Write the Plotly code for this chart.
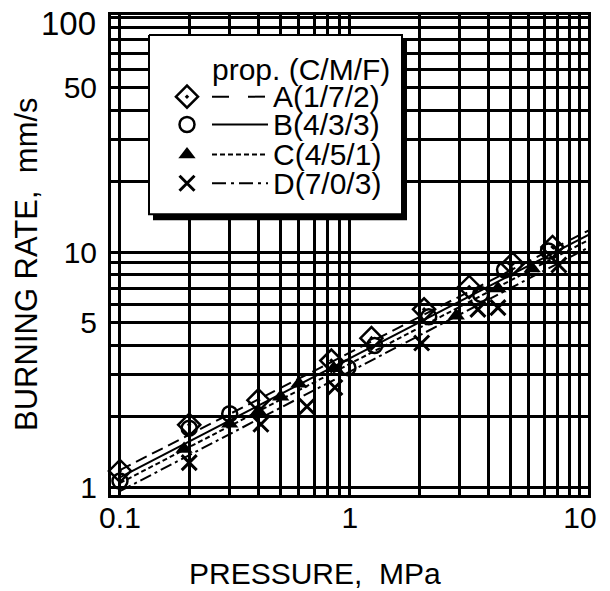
import plotly.graph_objects as go

# Measured burning rates (mm/s) vs. pressure (MPa) for four propellants
A_p = [0.1, 0.2, 0.4, 0.83, 1.24, 2.1, 3.3, 5.1, 7.6]
A_r = [1.17, 1.84, 2.34, 3.45, 4.3, 5.7, 7.1, 8.9, 10.5]
B_p = [0.1, 0.2, 0.3, 0.98, 1.28, 2.2, 3.7, 4.7, 7.3]
B_r = [1.06, 1.78, 2.05, 3.22, 4.0, 5.3, 6.6, 8.4, 10.1]
C_p = [0.19, 0.3, 0.4, 0.5, 0.6, 0.85, 2.9, 4.4, 6.2]
C_r = [1.45, 1.86, 2.1, 2.42, 2.75, 3.2, 5.35, 7.0, 8.5]
D_p = [0.2, 0.41, 0.65, 0.86, 2.05, 3.6, 4.4, 8.1]
D_r = [1.27, 1.85, 2.2, 2.65, 4.1, 5.7, 5.8, 8.8]

# Straight-line (power law) fits, given at their end pressures
fit_p = [0.1, 11]
A_fit = [1.18, 12.4]
B_fit = [1.10, 11.9]
C_fit = [1.04, 11.3]
D_fit = [0.96, 10.5]

names = ["A(1/7/2)", "B(4/3/3)", "C(4/5/1)", "D(7/0/3)"]
legend_title = "prop. (C/M/F)"

x_ticks = [0.1, 0.2, 0.3, 0.4, 0.5, 0.6, 0.7, 0.8, 0.9,
           1, 2, 3, 4, 5, 6, 7, 8, 9, 10]
x_labels = {0.1: "0.1", 1: "1", 10: "10"}
y_ticks = [1, 2, 3, 4, 5, 6, 7, 8, 9,
           10, 20, 30, 40, 50, 60, 70, 80, 90, 100]
y_labels = {1: "1", 5: "5", 10: "10", 50: "50"}

W, H = 610, 591
L, R, T, B = 111, 588, 13, 495
FONT = "Liberation Sans, Arial, Helvetica, sans-serif"


def fx(x):
    return (x - L) / (R - L)


def fy(y):
    return (B - y) / (B - T)


def rect(x0, y0, x1, y1):
    return ([fx(x0), fx(x1), fx(x1), fx(x0), fx(x0)],
            [fy(y0), fy(y0), fy(y1), fy(y1), fy(y0)])


styles = [
    dict(symbol="diamond-open-dot", size=17, line=dict(width=2.5, color="black"),
         color="black", dash="12px,6px", leg_dash="17px,19px"),
    dict(symbol="circle-open", size=15, line=dict(width=2.5, color="black"),
         color="black", dash="solid", leg_dash="solid"),
    dict(symbol="triangle-up", size=15, line=dict(width=0, color="black"),
         color="black", dash="5px,3px", leg_dash="5px,3px"),
    dict(symbol="x-thin-open", size=15, line=dict(width=3, color="black"),
         color="black", dash="12px,4px,3px,4px", leg_dash="14px,5px,3px,5px"),
]

data = [(A_p, A_r, A_fit), (B_p, B_r, B_fit), (C_p, C_r, C_fit), (D_p, D_r, D_fit)]

fig = go.Figure()

for (p, r, fit), st in zip(data, styles):
    fig.add_trace(go.Scatter(
        x=fit_p, y=fit, mode="lines",
        line=dict(color="black", width=2, dash=st["dash"]),
        showlegend=False, hoverinfo="skip"))
for (p, r, fit), st in zip(data, styles):
    fig.add_trace(go.Scatter(
        x=p, y=r, mode="markers",
        marker=dict(symbol=st["symbol"], size=st["size"], color=st["color"],
                    line=st["line"]),
        showlegend=False, cliponaxis=False))

# Legend panel, drawn on an overlay axis pair spanning the plot area
# (0..1 in both directions) so it covers the grid.
sx, sy = rect(153, 38, 407, 219)
fig.add_trace(go.Scatter(x=sx, y=sy, xaxis="x2", yaxis="y2", mode="lines",
                         fill="toself", fillcolor="black",
                         line=dict(width=0, color="black"),
                         showlegend=False, hoverinfo="skip"))
bx, by = rect(149, 33, 402, 213)
fig.add_trace(go.Scatter(x=bx, y=by, xaxis="x2", yaxis="y2", mode="lines",
                         fill="toself", fillcolor="white",
                         line=dict(width=2, color="black"),
                         showlegend=False, hoverinfo="skip"))

rows = [95, 123, 153, 182]
annotations = [
    dict(text=legend_title, xref="paper", yref="paper", x=fx(210), y=fy(68),
         xanchor="left", yanchor="middle", showarrow=False,
         font=dict(size=30, family=FONT, color="black")),
]
for name, st, ry in zip(names, styles, rows):
    fig.add_trace(go.Scatter(
        x=[fx(212), fx(268)], y=[fy(ry), fy(ry)], xaxis="x2", yaxis="y2",
        mode="lines", line=dict(width=2, color="black", dash=st["leg_dash"]),
        showlegend=False, hoverinfo="skip"))
    fig.add_trace(go.Scatter(
        x=[fx(187)], y=[fy(ry)], xaxis="x2", yaxis="y2", mode="markers",
        marker=dict(symbol=st["symbol"], size=st["size"], color=st["color"],
                    line=st["line"]),
        showlegend=False, hoverinfo="skip"))
    annotations.append(dict(text=name, xref="paper", yref="paper",
                            x=fx(271), y=fy(ry), xanchor="left", yanchor="middle",
                            showarrow=False,
                            font=dict(size=30, family=FONT, color="black")))

# Axis titles and the top y label
annotations += [
    dict(text="PRESSURE, \u00a0MPa", xref="paper", yref="paper",
         x=fx(315), y=fy(574), xanchor="center", yanchor="middle",
         showarrow=False, font=dict(size=30, family=FONT, color="black")),
    dict(text="BURNING RATE, \u00a0mm/s", xref="paper", yref="paper",
         x=fx(27), y=fy(263), xanchor="center", yanchor="middle",
         textangle=-90, showarrow=False,
         font=dict(size=31, family=FONT, color="black")),
    dict(text="100", xref="paper", yref="paper",
         x=fx(98), y=fy(22), xanchor="right", yanchor="middle",
         showarrow=False, font=dict(size=33, family=FONT, color="black")),
]

axis_common = dict(
    type="log", showgrid=True, gridcolor="black", gridwidth=2.5,
    showline=True, linecolor="black", linewidth=3, mirror=True,
    ticks="", zeroline=False,
    tickfont=dict(size=30, family=FONT, color="black"),
)

fig.update_layout(
    width=W, height=H,
    margin=dict(l=L, r=W - R, t=T, b=H - B),
    paper_bgcolor="white", plot_bgcolor="white",
    showlegend=False,
    xaxis=dict(range=[-1.039, 1.035], tickvals=x_ticks,
               ticktext=[x_labels.get(v, "") for v in x_ticks],
               ticklabelstandoff=-6, **axis_common),
    yaxis=dict(range=[-0.034, 2.0085], tickvals=y_ticks,
               ticktext=[y_labels.get(v, "") for v in y_ticks],
               ticklabelstandoff=5, **axis_common),
    xaxis2=dict(domain=[0, 1], range=[0, 1], overlaying="x", visible=False,
                showgrid=False),
    yaxis2=dict(domain=[0, 1], range=[0, 1], overlaying="y", visible=False,
                showgrid=False),
    annotations=annotations,
)

fig.write_html("out.html")
